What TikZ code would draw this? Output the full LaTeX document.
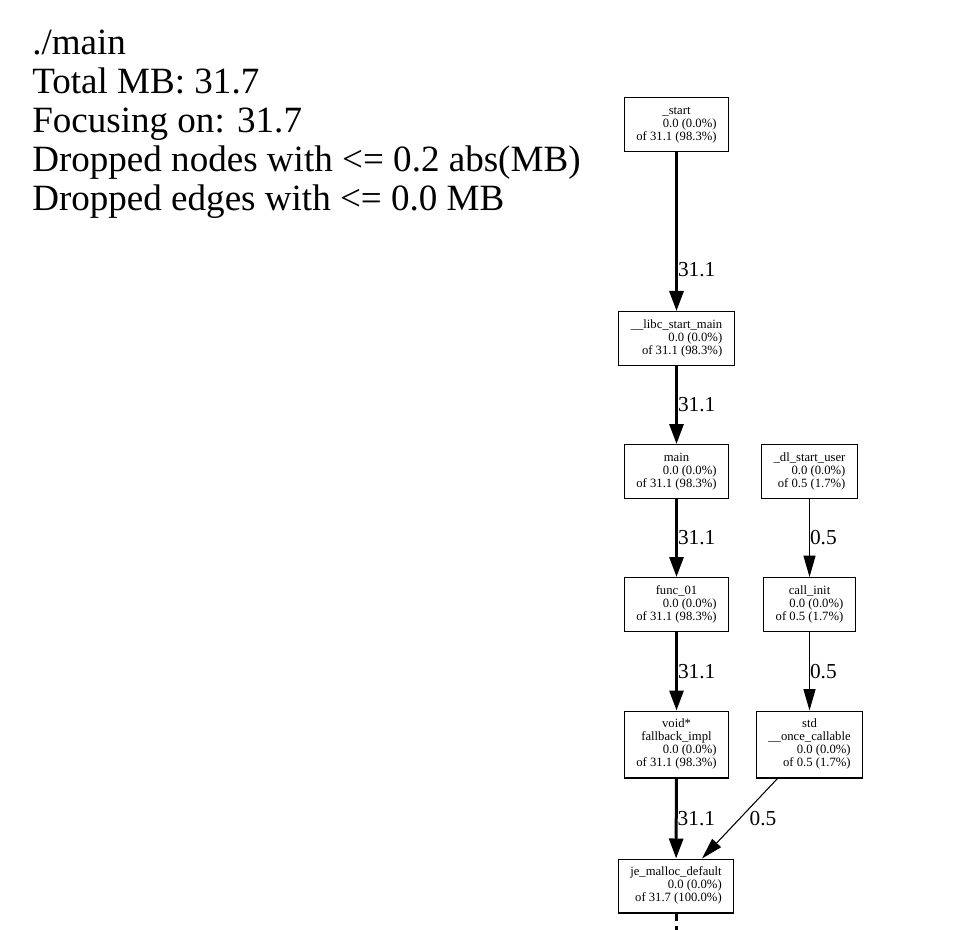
\documentclass[tikz,border=0pt]{standalone}
\usepackage{fontspec}
\setmainfont{Liberation Serif}
\usetikzlibrary{arrows.meta}

% first line(s) centred, counts right aligned
\newcommand{\ctr}[1]{\multicolumn{1}{@{}c@{}}{#1}}
\newcommand{\prof}[3]{\begin{tabular}{@{}r@{}}#1\\#2\\#3\end{tabular}}

\begin{document}
\begin{tikzpicture}[x=0.75pt,y=-0.75pt,
    fn/.style={draw,line width=1pt,rectangle,inner xsep=9pt,inner ysep=5.5pt,
      font=\fontsize{9.5}{9.75}\selectfont},
    hot/.style={draw,line width=2.25pt,-{Triangle[length=15pt,width=10.5pt]}},
    cold/.style={draw,line width=0.8pt,-{Triangle[length=16pt,width=9pt]}},
    lbl/.style={font=\fontsize{16}{16}\selectfont,inner sep=0pt,anchor=west},
    hdr/.style={font=\fontsize{27.8}{29}\selectfont,inner sep=0pt,anchor=base west}]
    \useasboundingbox (0,0) rectangle (970,930);

    %%%%% THE HEADER
    \foreach \txt [count=\i] in {./main, Total MB: 31.7, Focusing on: 31.7,
        Dropped nodes with <= 0.2 abs(MB), Dropped edges with <= 0.0 MB}
      \node[hdr] (hdr\i) at (32,{55+38.8*(\i-1)}) {\txt};

    %%%%% THE NODES
    \node[fn] (start)    at (676.5,124.5) {\prof{\ctr{\_start}}{0.0 (0.0\%)}{of 31.1 (98.3\%)}};
    \node[fn] (libc)     at (676.5,338.5) {\prof{\ctr{\_\_libc\_start\_main}}{0.0 (0.0\%)}{of 31.1 (98.3\%)}};
    \node[fn] (main)     at (676.5,471.5) {\prof{\ctr{main}}{0.0 (0.0\%)}{of 31.1 (98.3\%)}};
    \node[fn] (dlstart)  at (809.5,471.5) {\prof{\ctr{\_dl\_start\_user}}{0.0 (0.0\%)}{of 0.5 (1.7\%)}};
    \node[fn] (func)     at (676.5,604.5) {\prof{\ctr{func\_01}}{0.0 (0.0\%)}{of 31.1 (98.3\%)}};
    \node[fn] (callinit) at (809.5,604.5) {\prof{\ctr{call\_init}}{0.0 (0.0\%)}{of 0.5 (1.7\%)}};
    \node[fn] (fallback) at (676.5,744.5) {\prof{\ctr{void*}\\\ctr{fallback\_impl}}{0.0 (0.0\%)}{of 31.1 (98.3\%)}};
    \node[fn] (once)     at (809.5,744.5) {\prof{\ctr{std}\\\ctr{\_\_once\_callable}}{0.0 (0.0\%)}{of 0.5 (1.7\%)}};
    \node[fn] (jemalloc) at (676,886) {\prof{\ctr{je\_malloc\_default}}{0.0 (0.0\%)}{of 31.7 (100.0\%)}};
    \coordinate (jeout) at (676,945);

    %%%%% THE EDGES
    \draw[hot] (start) -- node[lbl,pos=0.74] {31.1} (libc);
    \draw[hot] (libc) -- node[lbl] {31.1} (main);
    \draw[hot] (main) -- node[lbl] {31.1} (func);
    \draw[hot] (func) -- node[lbl] {31.1} (fallback);
    \draw[hot] (fallback) -- node[lbl] {31.1} (jemalloc);
    \draw[cold] (dlstart) -- node[lbl] {0.5} (callinit);
    \draw[cold] (callinit) -- node[lbl] {0.5} (once);
    \draw[cold] ([xshift=-24pt]once.south) -- node[lbl,xshift=7pt] {0.5} ([xshift=19.5pt]jemalloc.north);
    % truncated continuation below
    \draw[line width=2.25pt,dash pattern=on 5.25pt off 3.75pt] (jemalloc) -- (jeout);
\end{tikzpicture}
\end{document}
